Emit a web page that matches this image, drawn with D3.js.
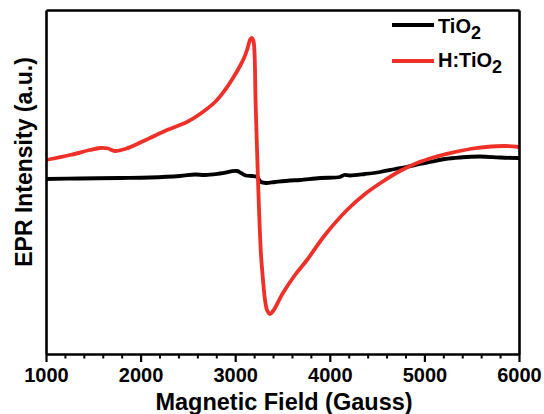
<!DOCTYPE html>
<html><head><meta charset="utf-8">
<script src="https://cdn.jsdelivr.net/npm/d3@7"></script>
<style>body{margin:0;background:#fff}svg{display:block}</style>
</head><body>
<svg id="c" width="544" height="414" xmlns="http://www.w3.org/2000/svg"></svg>
<script>
// Data (Magnetic field in Gauss, EPR intensity in arbitrary units)
const seriesNames = ["TiO2", "H:TiO2"];
const xTicks = [1000, 2000, 3000, 4000, 5000, 6000];
const tio2Field = [1000,1359,1782,2099,2416,2575,2681,2839,3019,3061,3114,3178,3230,3273,3326,3421,3579,3685,3896,4107,4150,4214,4372,4531,4689,4805,4953,5059,5218,5376,5588,5799,6000];
const tio2Int   = [175,175.5,176,176.5,178,179.5,179,180.5,183,181,178.5,178,177,172,171,172,173.5,174,176,177,179,178.5,180,182,185,187,190,192,195,196.5,197.5,196.5,196];
const htio2Field = [1000,1254,1465,1571,1655,1729,1835,1940,2099,2279,2490,2628,2787,2892,2977,3051,3093,3125,3146,3162,3178,3193,3204,3215,3231,3252,3273,3294,3315,3336,3368,3400,3505,3632,3759,3949,4182,4372,4552,4742,4922,5112,5281,5482,5651,5852,6000];
const htio2Int   = [194,199,204,206,205.5,203,205,209,216,224,232,240,252,264,276,288,296,304,311,315,316,313,302,254,204,144,99,74,54,44,40,43,61,79,94,119,144,160,172,183,191,197,201,205,207,208,207];

const svg = d3.select("#c");
const L = 46, R = 519, T = 10, B = 354;
const x = d3.scaleLinear().domain([1000, 6000]).range([L, R]);
const y = d3.scaleLinear().domain([0, 344]).range([B, T]);
const FONT = "Liberation Sans, Arial, Helvetica, sans-serif";

const line = d3.line().x(d => x(d[0])).y(d => y(d[1])).curve(d3.curveCatmullRom.alpha(0.5));
const black = tio2Field.map((f, i) => [f, tio2Int[i]]);
const red = htio2Field.map((f, i) => [f, htio2Int[i]]);

svg.append("path").datum(black).attr("d", line)
  .attr("fill", "none").attr("stroke", "#000").attr("stroke-width", 3.8).attr("stroke-linejoin", "round");
svg.append("path").datum(red).attr("d", line)
  .attr("fill", "none").attr("stroke", "#ee3029").attr("stroke-width", 3.8).attr("stroke-linejoin", "round");

// frame built from the library's axes (domain lines only on top/left/right)
const styleDomain = g => g.select(".domain").attr("stroke", "#000").attr("stroke-width", 2.6);
svg.append("g").attr("transform", `translate(0,${T})`)
  .call(d3.axisTop(x).tickValues([]).tickSizeOuter(0)).call(styleDomain);
svg.append("g").attr("transform", `translate(${L},0)`)
  .call(d3.axisLeft(y).tickValues([]).tickSizeOuter(0)).call(styleDomain);
svg.append("g").attr("transform", `translate(${R},0)`)
  .call(d3.axisRight(y).tickValues([]).tickSizeOuter(0)).call(styleDomain);

// bottom axis
const minor = d3.range(1000, 6001, 200).filter(v => v % 1000 !== 0);
const ax = svg.append("g").attr("transform", `translate(0,${B})`);
ax.append("g").call(d3.axisBottom(x).tickValues(minor).tickSize(4.5).tickFormat(""))
  .call(g => g.select(".domain").remove())
  .selectAll("line").attr("stroke-width", 2);
const major = ax.append("g").call(d3.axisBottom(x).tickValues(xTicks).tickSize(8).tickSizeOuter(0).tickPadding(6).tickFormat(d3.format("d")))
  .call(styleDomain);
major.selectAll(".tick line").attr("stroke-width", 2.2);
major.selectAll("text").attr("font-family", FONT)
  .attr("font-weight", "bold").attr("font-size", 20).attr("fill", "#000");

svg.append("text").attr("x", 284).attr("y", 410)
  .attr("text-anchor", "middle").attr("font-family", FONT)
  .attr("font-weight", "bold").attr("font-size", 23.5).text("Magnetic Field (Gauss)");
svg.append("text").attr("transform", `translate(32,162) rotate(-90)`)
  .attr("text-anchor", "middle").attr("font-family", FONT)
  .attr("font-weight", "bold").attr("font-size", 23).text("EPR Intensity (a.u.)");

// legend
const leg = [
  {name: "TiO", color: "#000", ly: 25, ty: 33},
  {name: "H:TiO", color: "#ee3029", ly: 61, ty: 67}
];
leg.forEach(d => {
  svg.append("line").attr("x1", 392).attr("x2", 434).attr("y1", d.ly).attr("y2", d.ly)
    .attr("stroke", d.color).attr("stroke-width", 4);
  const t = svg.append("text").attr("x", 438).attr("y", d.ty)
    .attr("font-family", FONT).attr("font-weight", "bold").attr("font-size", 20).attr("fill", "#000");
  t.append("tspan").text(d.name);
  t.append("tspan").attr("dy", 6).attr("font-size", 18).text("2");
});
</script>
</body></html>
